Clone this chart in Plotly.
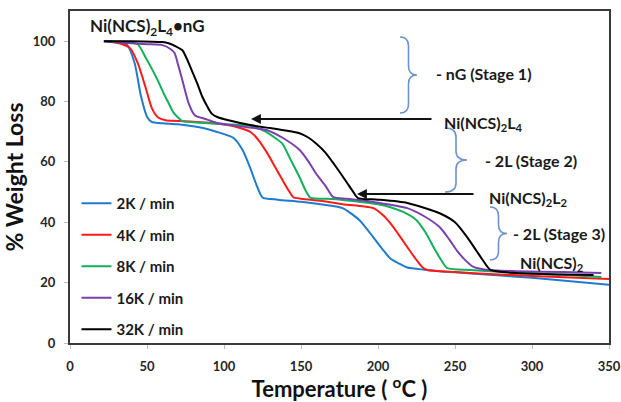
import plotly.graph_objects as go

# ---------------- data ----------------
series_names = ["2K / min", "4K / min", "8K / min", "16K / min", "32K / min"]
series_colors = ["#1f7bd0", "#ff1a1a", "#12b05a", "#7a3fb0", "#000000"]

t_2k = [22, 30, 37, 42, 46, 50, 53, 60, 70, 84, 95, 106, 112, 117, 121, 125, 135, 150, 165, 177,
        188, 197, 203, 208, 213, 219, 230, 250, 275, 300, 325, 350]
w_2k = [100, 99.7, 98.8, 92.7, 82, 75, 73.3, 72.8, 72.5, 71.5, 70, 68, 64, 58, 52.5, 48.2, 47.5,
        46.8, 45.8, 44.7, 40.7, 35, 31, 28, 26.5, 25, 24.3, 23.4, 22.5, 21.6, 20.5, 19.3]

t_4k = [24, 32, 39, 44, 49, 53, 57, 62, 75, 90, 105, 112, 117, 122, 128, 133, 138, 142, 145, 150,
        165, 177, 190, 197, 203, 208, 214, 219, 225, 229, 232, 250, 275, 300, 325, 350]
w_4k = [100, 99.3, 97.7, 92.7, 84.8, 78, 74.8, 73.8, 73.5, 73, 72, 71, 70, 67.5, 63, 58.5, 54, 50.5,
        48.3, 47.8, 47, 46, 45.3, 44.7, 42.5, 39.7, 35.5, 31.8, 27.5, 25, 24.2, 23.5, 22.8, 22.2,
        21.7, 21.2]

t_8k = [25, 35, 44, 49, 53, 57, 61, 64, 67, 70, 73, 85, 100, 117, 127, 133, 138, 143, 149, 153,
        156, 170, 185, 200, 208, 216, 225, 231, 236, 241, 245, 260, 280, 300, 320, 345]
w_8k = [100, 99.8, 99, 94.7, 91, 87, 82.5, 79.5, 76.5, 74.8, 73.5, 73, 72.5, 72, 70, 68, 66, 61,
        55, 50.5, 48.2, 47.7, 47, 46, 45, 43.5, 40.7, 36.5, 31.8, 27.5, 24.8, 24.2, 23.5, 23,
        22.6, 21.9]

t_16k = [22, 35, 50, 60, 65, 68, 70, 73, 77, 81, 88, 95, 110, 128, 138, 149, 155, 160, 166, 171,
         180, 200, 219, 230, 240, 246, 251, 256, 262, 270, 290, 320, 345]
w_16k = [100, 99.5, 99, 98.7, 97.5, 96, 92.5, 87, 79.5, 75.5, 74.2, 73, 71.8, 70.5, 68, 64, 60,
         56, 52, 48.3, 47.8, 46.5, 44.7, 42, 38.4, 34.5, 30.8, 27.8, 25.2, 24.3, 23.8, 23.5, 23.2]

t_32k = [22, 40, 60, 64, 69, 73, 76, 79, 83, 86, 89, 92, 96, 103, 117, 130, 140, 149, 155, 160,
         166, 171, 176, 180, 184, 187, 200, 219, 240, 250, 258, 264, 268, 273, 290, 320, 340]
w_32k = [100, 100, 99.7, 99.3, 98.2, 97, 94, 90.4, 85.5, 81.5, 78.5, 76, 74.8, 73.8, 72.2, 71.2,
         70.4, 69.5, 68, 66, 63, 59.6, 56, 53, 50, 48, 47.5, 46.4, 43, 40, 35, 30.5, 27.5, 24.2,
         23.2, 22.7, 22.5]

x_ticks = [0, 50, 100, 150, 200, 250, 300, 350]
y_ticks = [0, 20, 40, 60, 80, 100]

temps = [t_2k, t_4k, t_8k, t_16k, t_32k]
weights = [w_2k, w_4k, w_8k, w_16k, w_32k]

# ---------------- figure ----------------
FONT = "Lato"
W, H = 621, 402
ML, MR, MT, MB = 70, 12, 11, 59
XR = [0, 350]
YR = [0, 110]

fig = go.Figure()
for i, (name, col) in enumerate(zip(series_names, series_colors)):
    fig.add_trace(go.Scatter(x=temps[i], y=weights[i], mode="lines", name=name,
                             legendgroup=name,
                             line=dict(color=col, width=2, shape="spline", smoothing=0.6)))

pw = W - ML - MR
ph = H - MT - MB


def px2d(px, py):
    x = XR[0] + (px - ML) / pw * (XR[1] - XR[0])
    y = YR[0] + (MT + ph - py) / ph * (YR[1] - YR[0])
    return x, y


def brace_path(L, R, yt, yb, h=9):
    M = (L + R) / 2
    ym = (yt + yb) / 2
    pts = [("M", [(L, yt)]),
           ("Q", [(M, yt), (M, yt + h)]),
           ("L", [(M, ym - h)]),
           ("Q", [(M, ym), (R, ym)]),
           ("Q", [(M, ym), (M, ym + h)]),
           ("L", [(M, yb - h)]),
           ("Q", [(M, yb), (L, yb)])]
    s = ""
    for cmd, ps in pts:
        s += cmd + " " + " ".join("%.3f,%.3f" % px2d(*p) for p in ps) + " "
    return s.strip()


brace_color = "#6b93cc"
for L, R, yt, yb in [(400, 417, 37, 113), (445, 467, 128, 192), (490, 507, 207, 260)]:
    fig.add_shape(type="path", path=brace_path(L, R, yt, yb), xref="x", yref="y",
                  line=dict(color=brace_color, width=1.6))


def text_at(px, py, txt, size=16, anchor="left"):
    x, y = px2d(px, py)
    fig.add_annotation(x=x, y=y, text=txt, showarrow=False, xanchor=anchor, yanchor="middle",
                       font=dict(family=FONT, size=size, color="#1a1a1a", weight="bold"))


text_at(88, 27, "Ni(NCS)<sub>2</sub>L<sub>4</sub>•nG", size=17)
text_at(434, 73, "- nG (Stage 1)")
text_at(442, 123, "Ni(NCS)<sub>2</sub>L<sub>4</sub>")
text_at(483, 160, "- 2L (Stage 2)")
text_at(487, 198, "Ni(NCS)<sub>2</sub>L<sub>2</sub>")
text_at(511, 233, "- 2L (Stage 3)")
text_at(518, 263, "Ni(NCS)<sub>2</sub>")

# arrows
for tail, head in [((433, 119), (251, 119)), ((475, 194), (357, 194))]:
    hx, hy = px2d(*head)
    tx, ty = px2d(*tail)
    fig.add_annotation(x=hx, y=hy, ax=tx, ay=ty, xref="x", yref="y", axref="x", ayref="y",
                       text="", showarrow=True, arrowhead=2, arrowsize=1.1, arrowwidth=1.8,
                       arrowcolor="#111111")

axis_common = dict(showgrid=False, zeroline=False, showline=True, mirror=True,
                   linecolor="#3a3a3a", linewidth=2, ticks="outside", ticklen=4,
                   tickcolor="#bdbdbd",
                   tickfont=dict(family=FONT, size=13, color="#262626", weight="bold"))

fig.update_layout(
    width=W, height=H,
    margin=dict(l=ML, r=MR, t=MT, b=MB, autoexpand=False),
    paper_bgcolor="white", plot_bgcolor="white",
    xaxis=dict(range=XR, tickvals=x_ticks, ticklabelstandoff=6,
               title=dict(text="Temperature ( <sup>o</sup>C )", standoff=6,
                          font=dict(family=FONT, size=22, color="#111111", weight="bold")),
               **axis_common),
    yaxis=dict(range=YR, tickvals=y_ticks, ticklabelstandoff=6,
               title=dict(text="% Weight Loss", standoff=8,
                          font=dict(family=FONT, size=23, color="#111111", weight="bold")),
               **axis_common),
    legend=dict(x=0.012, y=0.47, xanchor="left", yanchor="top", bgcolor="rgba(0,0,0,0)",
                font=dict(family=FONT, size=15, color="#1a1a1a", weight="bold"),
                tracegroupgap=9, itemwidth=30),
    showlegend=True,
)

fig.write_html("out.html")
